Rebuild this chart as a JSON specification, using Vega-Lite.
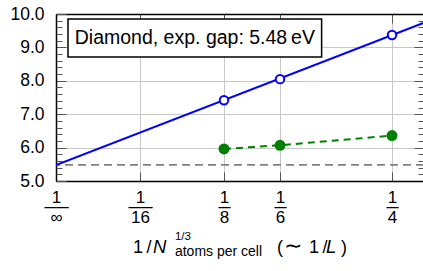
{
  "$schema": "https://vega.github.io/schema/vega-lite/v6.json",
  "width": 368,
  "height": 167,
  "autosize": "none",
  "padding": {"left": 56, "top": 14, "right": 0, "bottom": 90},
  "background": "white",
  "config": {
    "view": {"stroke": null},
    "font": "Liberation Sans",
    "axis": {
      "domainColor": "black", "domainWidth": 1.5,
      "tickColor": "#555555", "tickWidth": 1,
      "gridColor": "#c8c8c8", "gridWidth": 1,
      "labelColor": "black", "labelFont": "Liberation Sans",
      "labelFlush": false, "labelOverlap": false
    }
  },
  "datasets": {
    "gap": [{"gap": 5.48}],
    "fit": [{"x": 0, "y": 5.48}, {"x": 0.2738, "y": 9.74}],
    "blue": [{"x": 0.125, "y": 7.42}, {"x": 0.16667, "y": 8.05}, {"x": 0.25, "y": 9.37}],
    "green": [{"x": 0.125, "y": 5.96}, {"x": 0.16667, "y": 6.07}, {"x": 0.25, "y": 6.36}],
    "legend": [{"label": "Diamond, exp. gap: 5.48\u2009eV"}]
  },
  "resolve": {"axis": {"x": "independent", "y": "independent"}},
  "layer": [
    {
      "data": {"name": "gap"},
      "mark": {"type": "rule", "stroke": "#808080", "strokeWidth": 1.8, "strokeDash": [8, 5]},
      "encoding": {
        "y": {"field": "gap", "type": "quantitative", "scale": {"domain": [5, 10], "nice": false, "zero": false},
          "axis": {"orient": "left", "title": null, "values": [5, 6, 7, 8, 9, 10], "format": ".1f", "grid": true, "tickSize": -10, "labelPadding": 22, "labelFontSize": 17.5}}
      }
    },
    {
      "data": {"name": "fit"},
      "mark": {"type": "line", "stroke": "#0000ff", "strokeWidth": 2, "clip": true},
      "encoding": {
        "x": {"field": "x", "type": "quantitative", "scale": {"domain": [0, 0.2738], "nice": false, "zero": false},
          "axis": {"orient": "bottom", "title": null, "values": [0, 0.0625, 0.125, 0.16667, 0.25], "grid": true, "tickSize": -9, "labelPadding": 17, "labelFontSize": 17, "labelLineHeight": 10, "labelBaseline": "top",
            "labelExpr": "datum.value == 0 ? ['1','\u2500\u2500','\u221e'] : datum.value < 0.07 ? ['1','\u2500\u2500','16'] : datum.value < 0.13 ? ['1','\u2500','8'] : datum.value < 0.2 ? ['1','\u2500','6'] : ['1','\u2500','4']"}},
        "y": {"field": "y", "type": "quantitative", "scale": {"domain": [5, 10], "nice": false, "zero": false},
          "axis": {"orient": "left", "title": null, "values": [5.2, 5.4, 5.6, 5.8, 6.2, 6.4, 6.6, 6.8, 7.2, 7.4, 7.6, 7.8, 8.2, 8.4, 8.6, 8.8, 9.2, 9.4, 9.6, 9.8], "labels": false, "domain": false, "grid": false, "tickSize": -6}}
      }
    },
    {
      "data": {"name": "blue"},
      "mark": {"type": "point", "shape": "circle", "filled": false, "fill": "white", "stroke": "#0000ff", "strokeWidth": 2, "size": 72, "opacity": 1},
      "encoding": {
        "x": {"field": "x", "type": "quantitative", "scale": {"domain": [0, 0.2738], "nice": false, "zero": false},
          "axis": {"orient": "top", "title": null, "values": [0.0625, 0.125, 0.16667, 0.25], "labels": false, "grid": false, "tickSize": -9}},
        "y": {"field": "y", "type": "quantitative", "scale": {"domain": [5, 10], "nice": false, "zero": false},
          "axis": {"orient": "right", "title": null, "values": [6, 7, 8, 9], "labels": false, "grid": false, "tickSize": -10}}
      }
    },
    {
      "data": {"name": "green"},
      "mark": {"type": "line", "stroke": "#008000", "strokeWidth": 2, "strokeDash": [7, 5]},
      "encoding": {
        "x": {"field": "x", "type": "quantitative", "scale": {"domain": [0, 0.2738], "nice": false, "zero": false}, "axis": null},
        "y": {"field": "y", "type": "quantitative", "scale": {"domain": [5, 10], "nice": false, "zero": false},
          "axis": {"orient": "right", "title": null, "values": [5.2, 5.4, 5.6, 5.8, 6.2, 6.4, 6.6, 6.8, 7.2, 7.4, 7.6, 7.8, 8.2, 8.4, 8.6, 8.8, 9.2, 9.4, 9.6, 9.8], "labels": false, "domain": false, "grid": false, "tickSize": -6}}
      }
    },
    {
      "data": {"name": "green"},
      "mark": {"type": "point", "shape": "circle", "filled": true, "color": "#008000", "size": 120, "opacity": 1},
      "encoding": {
        "x": {"field": "x", "type": "quantitative", "scale": {"domain": [0, 0.2738], "nice": false, "zero": false}, "axis": null},
        "y": {"field": "y", "type": "quantitative", "scale": {"domain": [5, 10], "nice": false, "zero": false}, "axis": null}
      }
    },
    {
      "data": {"name": "legend"},
      "mark": {"type": "rect", "fill": "white", "stroke": "black", "strokeWidth": 1.5},
      "encoding": {
        "x": {"datum": 0.00893, "type": "quantitative", "scale": {"domain": [0, 0.2738], "nice": false, "zero": false}, "axis": null},
        "x2": {"datum": 0.19762},
        "y": {"datum": 9.85, "type": "quantitative", "scale": {"domain": [5, 10], "nice": false, "zero": false}, "axis": null},
        "y2": {"datum": 8.713}
      }
    },
    {
      "data": {"name": "legend"},
      "mark": {"type": "text", "fontSize": 19.5, "font": "Liberation Sans", "align": "center", "baseline": "middle", "color": "black"},
      "encoding": {
        "text": {"field": "label"},
        "x": {"datum": 0.1033, "type": "quantitative", "scale": {"domain": [0, 0.2738], "nice": false, "zero": false}, "axis": null},
        "y": {"datum": 9.28, "type": "quantitative", "scale": {"domain": [5, 10], "nice": false, "zero": false}, "axis": null}
      }
    },
    {
      "data": {"values": [{"t": "1\u2009/"}]},
      "mark": {"type": "text", "fontSize": 18, "font": "Liberation Sans", "align": "left", "baseline": "alphabetic", "color": "black"},
      "encoding": {
        "text": {"field": "t"},
        "x": {"datum": 0.05729, "type": "quantitative", "scale": {"domain": [0, 0.2738], "nice": false, "zero": false}, "axis": null},
        "y": {"datum": 2.84, "type": "quantitative", "scale": {"domain": [5, 10], "nice": false, "zero": false}, "axis": null}
      }
    },
    {
      "data": {"values": [{"t": "N"}]},
      "mark": {"type": "text", "fontSize": 18.5, "font": "Liberation Sans", "fontStyle": "italic", "align": "left", "baseline": "alphabetic", "color": "black"},
      "encoding": {
        "text": {"field": "t"},
        "x": {"datum": 0.07217, "type": "quantitative", "scale": {"domain": [0, 0.2738], "nice": false, "zero": false}, "axis": null},
        "y": {"datum": 2.84, "type": "quantitative", "scale": {"domain": [5, 10], "nice": false, "zero": false}, "axis": null}
      }
    },
    {
      "data": {"values": [{"t": "1/3"}]},
      "mark": {"type": "text", "fontSize": 11.5, "font": "Liberation Sans", "align": "left", "baseline": "alphabetic", "color": "black"},
      "encoding": {
        "text": {"field": "t"},
        "x": {"datum": 0.0885, "type": "quantitative", "scale": {"domain": [0, 0.2738], "nice": false, "zero": false}, "axis": null},
        "y": {"datum": 3.234, "type": "quantitative", "scale": {"domain": [5, 10], "nice": false, "zero": false}, "axis": null}
      }
    },
    {
      "data": {"values": [{"t": "atoms per cell"}]},
      "mark": {"type": "text", "fontSize": 14, "font": "Liberation Sans", "align": "left", "baseline": "alphabetic", "color": "black"},
      "encoding": {
        "text": {"field": "t"},
        "x": {"datum": 0.0885, "type": "quantitative", "scale": {"domain": [0, 0.2738], "nice": false, "zero": false}, "axis": null},
        "y": {"datum": 2.76, "type": "quantitative", "scale": {"domain": [5, 10], "nice": false, "zero": false}, "axis": null}
      }
    },
    {
      "data": {"values": [{"t": "("}]},
      "mark": {"type": "text", "fontSize": 18, "font": "Liberation Sans", "align": "left", "baseline": "alphabetic", "color": "black"},
      "encoding": {
        "text": {"field": "t"},
        "x": {"datum": 0.1644, "type": "quantitative", "scale": {"domain": [0, 0.2738], "nice": false, "zero": false}, "axis": null},
        "y": {"datum": 2.84, "type": "quantitative", "scale": {"domain": [5, 10], "nice": false, "zero": false}, "axis": null}
      }
    },
    {
      "data": {"values": [{"t": "\u223c"}]},
      "mark": {"type": "text", "fontSize": 22, "font": "DejaVu Sans", "align": "left", "baseline": "alphabetic", "color": "black"},
      "encoding": {
        "text": {"field": "t"},
        "x": {"datum": 0.1696, "type": "quantitative", "scale": {"domain": [0, 0.2738], "nice": false, "zero": false}, "axis": null},
        "y": {"datum": 2.84, "type": "quantitative", "scale": {"domain": [5, 10], "nice": false, "zero": false}, "axis": null}
      }
    },
    {
      "data": {"values": [{"t": "1\u2009/"}]},
      "mark": {"type": "text", "fontSize": 18, "font": "Liberation Sans", "align": "left", "baseline": "alphabetic", "color": "black"},
      "encoding": {
        "text": {"field": "t"},
        "x": {"datum": 0.1882, "type": "quantitative", "scale": {"domain": [0, 0.2738], "nice": false, "zero": false}, "axis": null},
        "y": {"datum": 2.84, "type": "quantitative", "scale": {"domain": [5, 10], "nice": false, "zero": false}, "axis": null}
      }
    },
    {
      "data": {"values": [{"t": "L"}]},
      "mark": {"type": "text", "fontSize": 18.5, "font": "Liberation Sans", "fontStyle": "italic", "align": "left", "baseline": "alphabetic", "color": "black"},
      "encoding": {
        "text": {"field": "t"},
        "x": {"datum": 0.2009, "type": "quantitative", "scale": {"domain": [0, 0.2738], "nice": false, "zero": false}, "axis": null},
        "y": {"datum": 2.84, "type": "quantitative", "scale": {"domain": [5, 10], "nice": false, "zero": false}, "axis": null}
      }
    },
    {
      "data": {"values": [{"t": ")"}]},
      "mark": {"type": "text", "fontSize": 18, "font": "Liberation Sans", "align": "left", "baseline": "alphabetic", "color": "black"},
      "encoding": {
        "text": {"field": "t"},
        "x": {"datum": 0.2121, "type": "quantitative", "scale": {"domain": [0, 0.2738], "nice": false, "zero": false}, "axis": null},
        "y": {"datum": 2.84, "type": "quantitative", "scale": {"domain": [5, 10], "nice": false, "zero": false}, "axis": null}
      }
    }
  ]
}
